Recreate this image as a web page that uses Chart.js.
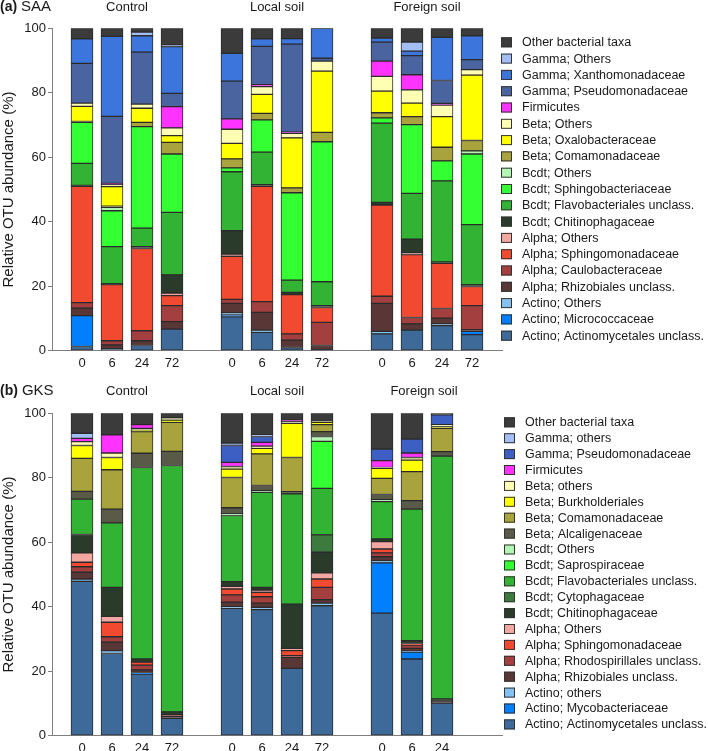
<!DOCTYPE html>
<html>
<head>
<meta charset="utf-8">
<script src="https://cdn.jsdelivr.net/npm/chart.js@4.4.1/dist/chart.umd.min.js"></script>
<style>
  html, body { margin: 0; padding: 0; background: #fff; }
  #wrap { position: relative; width: 709px; height: 751px; overflow: hidden; }
  canvas { position: absolute; left: 0; }
  #saa { top: 0; }
  #gks { top: 370px; }
</style>
</head>
<body>
<div id="wrap">
  <canvas id="saa" width="709" height="370"></canvas>
  <canvas id="gks" width="709" height="381"></canvas>
</div>
<script>
const hours = ["0", "6", "24", "72"];
const treatments = ["Control", "Local soil", "Foreign soil"];

// (a) SAA - order in each array: Control 0/6/24/72, Local 0/6/24/72, Foreign 0/6/24/72
const saaActinomycetales = [1.3, 0.6, 1.6, 6.7, 10.5, 5.7, 1.0, 0.3, 5.2, 6.4, 7.8, 5.0];
const saaMicrococcaceae  = [9.6, 0, 0, 0, 0.6, 0, 0, 0, 0, 0, 0, 1.0];
const saaActinoOthers    = [0, 0, 0, 0, 0.6, 0.7, 0, 0, 0.8, 0, 0.5, 0];
const saaRhizobiales     = [2.3, 1.2, 1.5, 2.3, 3.0, 5.5, 2.3, 1.3, 8.7, 1.9, 1.8, 0.5];
const saaCaulobacter     = [1.7, 1.3, 3.1, 5.0, 1.2, 3.3, 1.9, 7.2, 2.2, 2.0, 3.0, 7.5];
const saaSphingomonad    = [36.1, 17.4, 25.5, 3.1, 13.4, 35.8, 12.2, 4.6, 28.3, 19.5, 14.0, 5.9];
const saaAlphaOthers     = [0, 0, 0, 0.8, 0.7, 0, 0, 0, 0, 0.5, 0, 0];
const saaChitinophag     = [0.3, 0.3, 0.6, 5.6, 7.2, 0.5, 0.7, 0.6, 0.8, 4.3, 0.4, 0.6];
const saaFlavobact       = [6.8, 11.5, 5.7, 19.4, 18.3, 10.1, 3.8, 7.4, 24.6, 14.2, 25.2, 18.6];
const saaSphingobact     = [12.7, 11.1, 31.5, 18.1, 1.2, 10.0, 27.1, 43.4, 1.6, 21.3, 6.2, 21.9];
const saaBcdtOthers      = [0, 1.1, 0, 0, 0, 0, 0, 0, 0, 0, 0, 1.0];
const saaComamonad       = [0.3, 0.3, 1.3, 3.6, 2.8, 2.0, 1.5, 2.9, 1.6, 2.5, 4.2, 3.2];
const saaOxalobacter     = [4.7, 6.1, 4.4, 2.1, 4.8, 5.9, 15.5, 19.0, 6.7, 4.2, 9.5, 20.3];
const saaBetaOthers      = [1.0, 0.6, 1.3, 2.4, 4.4, 2.4, 1.4, 3.1, 4.6, 4.1, 3.6, 1.7];
const saaFirmicutes      = [0, 0.4, 0, 6.6, 3.2, 0.6, 0.4, 0, 4.7, 4.7, 0.5, 0];
const saaPseudomonad     = [12.3, 20.8, 16.1, 4.1, 11.7, 11.9, 27.3, 0.9, 5.9, 5.9, 7.1, 3.1];
const saaXanthomonad     = [7.6, 24.8, 5.1, 14.5, 8.6, 2.3, 1.7, 9.3, 1.3, 1.4, 13.4, 7.4];
const saaGammaOthers     = [0, 0, 1.1, 0.5, 0, 0, 0, 0, 0, 2.8, 0, 0];
const saaOther           = [3.3, 2.5, 1.2, 5.2, 7.8, 3.3, 3.2, 0, 3.0, 4.3, 2.8, 2.3];

// (b) GKS - same order, no Foreign soil 72 h sample
const gksActinomycetales = [47.9, 25.5, 19.1, 5.4, 39.5, 39.1, 20.9, 40.3, 38.0, 23.8, 10.1, null];
const gksMycobacter      = [0, 0, 0.5, 0, 0, 0, 0, 0, 15.6, 2.1, 0, null];
const gksActinoOthers    = [0.7, 0.9, 0, 0, 0.5, 0.7, 0, 0.8, 0.7, 0.3, 0, null];
const gksRhizobiales     = [2.1, 2.6, 0.8, 0.5, 1.4, 1.3, 3.4, 1.1, 1.2, 0.9, 0.6, null];
const gksRhodospir       = [1.7, 1.7, 1.5, 0.6, 2.3, 2.0, 0.5, 3.8, 1.2, 1.0, 0, null];
const gksSphingomonad    = [1.4, 4.5, 0.9, 0, 1.8, 1.4, 1.6, 2.6, 1.2, 0.5, 0, null];
const gksAlphaOthers     = [2.9, 1.8, 0, 0, 0.8, 0.7, 0.7, 1.9, 2.3, 0, 0, null];
const gksChitinophag     = [5.7, 9.0, 1.0, 0.9, 1.5, 0.8, 13.7, 6.4, 0.8, 0.9, 0.7, null];
const gksCytophag        = [0, 0, 0, 0, 0, 0, 0, 5.4, 0, 0, 0, null];
const gksFlavobact       = [11.0, 20.0, 59.4, 76.4, 20.5, 29.5, 34.2, 14.4, 11.6, 40.8, 75.3, null];
const gksSaprospir       = [0, 0, 0, 0, 0, 0, 0, 14.6, 0, 0, 0, null];
const gksBcdtOthers      = [0, 0, 0, 0, 0.5, 0.5, 0, 1.5, 0.6, 0, 0, null];
const gksAlcaligen       = [2.4, 4.3, 4.4, 4.4, 1.9, 1.6, 0.7, 1.5, 1.6, 2.6, 1.4, null];
const gksComamonad       = [10.2, 12.2, 6.7, 9.0, 9.4, 9.8, 10.6, 2.2, 5.0, 9.0, 7.2, null];
const gksBurkholder      = [4.0, 3.8, 0.5, 0.7, 2.6, 1.7, 10.6, 0.7, 3.1, 3.6, 0.6, null];
const gksBetaOthers      = [1.2, 1.4, 0.5, 0.7, 0.8, 0.7, 0.5, 0.3, 0.3, 0.8, 0.6, null];
const gksFirmicutes      = [1.0, 5.6, 1.2, 0, 1.3, 1.2, 0.5, 0, 2.1, 1.4, 0, null];
const gksPseudomonad     = [0, 0, 0, 0, 5.2, 1.8, 0, 0, 3.6, 4.3, 3.0, null];
const gksGammaOthers     = [1.6, 0, 0, 0, 0.8, 0.6, 0, 0, 0, 0, 0, null];
const gksOther           = [6.2, 6.7, 3.5, 1.4, 9.2, 6.6, 2.1, 2.5, 11.1, 8.0, 0.5, null];

// stacking order, bottom to top (legend shows it reversed)
const saaTaxa = [
  "Actino; Actinomycetales unclass.", "Actino; Micrococcaceae", "Actino; Others",
  "Alpha; Rhizobiales unclass.", "Alpha; Caulobacteraceae", "Alpha; Sphingomonadaceae", "Alpha; Others",
  "Bcdt; Chitinophagaceae", "Bcdt; Flavobacteriales unclass.", "Bcdt; Sphingobacteriaceae", "Bcdt; Others",
  "Beta; Comamonadaceae", "Beta; Oxalobacteraceae", "Beta; Others", "Firmicutes",
  "Gamma; Pseudomonadaceae", "Gamma; Xanthomonadaceae", "Gamma; Others", "Other bacterial taxa"
];
const saaSeries = [
  saaActinomycetales, saaMicrococcaceae, saaActinoOthers,
  saaRhizobiales, saaCaulobacter, saaSphingomonad, saaAlphaOthers,
  saaChitinophag, saaFlavobact, saaSphingobact, saaBcdtOthers,
  saaComamonad, saaOxalobacter, saaBetaOthers, saaFirmicutes,
  saaPseudomonad, saaXanthomonad, saaGammaOthers, saaOther
];
const saaColors = [
  "#3d6a99", "#0080ff", "#85c2f2",
  "#5a3737", "#a33f3f", "#f24a30", "#f2a8a0",
  "#2b3b2b", "#33b333", "#33ff33", "#b3f5b3",
  "#a8a33c", "#ffff00", "#ffffb3", "#ff33ff",
  "#4a64a0", "#3c75dc", "#a3bdf5", "#3b3b3b"
];

const gksTaxa = [
  "Actino; Actinomycetales unclass.", "Actino; Mycobacteriaceae", "Actino; others",
  "Alpha; Rhizobiales unclass.", "Alpha; Rhodospirillales unclass.", "Alpha; Sphingomonadaceae", "Alpha; Others",
  "Bcdt; Chitinophagaceae", "Bcdt; Cytophagaceae", "Bcdt; Flavobacteriales unclass.", "Bcdt; Saprospiraceae", "Bcdt; Others",
  "Beta; Alcaligenaceae", "Beta; Comamonadaceae", "Beta; Burkholderiales", "Beta; others",
  "Firmicutes", "Gamma; Pseudomonadaceae", "Gamma; others", "Other bacterial taxa"
];
const gksSeries = [
  gksActinomycetales, gksMycobacter, gksActinoOthers,
  gksRhizobiales, gksRhodospir, gksSphingomonad, gksAlphaOthers,
  gksChitinophag, gksCytophag, gksFlavobact, gksSaprospir, gksBcdtOthers,
  gksAlcaligen, gksComamonad, gksBurkholder, gksBetaOthers,
  gksFirmicutes, gksPseudomonad, gksGammaOthers, gksOther
];
const gksColors = [
  "#3d6a99", "#0080ff", "#85c2f2",
  "#5a3737", "#a33f3f", "#f24a30", "#f2a8a0",
  "#2b3b2b", "#3d7a3d", "#33b333", "#33ff33", "#b3f5b3",
  "#5a5a48", "#a8a33c", "#ffff00", "#ffffb3",
  "#ff33ff", "#3d5fc4", "#a3bdf5", "#3b3b3b"
];

// one empty slot before, between and after the three treatment groups
const slots = ["", ...hours, "", ...hours, "", ...hours, ""];
function toSlots(vals) {
  const out = new Array(slots.length).fill(null);
  vals.forEach((v, i) => {
    out[1 + Math.floor(i / 4) * 5 + (i % 4)] = v ? v : null;
  });
  return out;
}

const FONT = "'Liberation Sans', Arial, Helvetica, sans-serif";
Chart.defaults.font.family = FONT;
Chart.defaults.color = "#1a1a1a";

// panel letter, treatment names and the legend column
const panelDecor = {
  id: "panelDecor",
  afterDraw(chart, args, opts) {
    const ctx = chart.ctx;
    const xs = chart.scales.x;
    ctx.save();
    ctx.fillStyle = "#1a1a1a";
    ctx.textBaseline = "middle";
    ctx.textAlign = "left";
    ctx.font = "bold 14px " + FONT;
    ctx.fillText(opts.letter, 0, opts.titleY);
    const w = ctx.measureText(opts.letter).width + 4;
    ctx.font = "15px " + FONT;
    ctx.fillText(opts.site, w, opts.titleY);

    ctx.font = "13px " + FONT;
    ctx.textAlign = "center";
    treatments.forEach((t, g) => {
      ctx.fillText(t, xs.getPixelForValue(g * 5 + 2.5) + (opts.shift[g] || 0), opts.titleY);
    });

    ctx.font = "12.5px " + FONT;
    ctx.textAlign = "left";
    const items = chart.data.datasets.slice().reverse();
    items.forEach((ds, i) => {
      const y = opts.legendTop + i * opts.legendStep;
      ctx.fillStyle = ds.backgroundColor;
      ctx.fillRect(opts.boxX, y - 5, 11, 10);
      ctx.strokeStyle = "#333";
      ctx.lineWidth = 1;
      ctx.strokeRect(opts.boxX + 0.5, y - 4.5, 10, 9);
      ctx.fillStyle = "#1a1a1a";
      ctx.fillText(ds.label, opts.textX, y + 0.5);
    });
    ctx.restore();
  }
};

function makePanel(id, taxa, series, colors, decor, padTop, axisH) {
  const slotted = series.map(toSlots);
  // no tick label under a slot that holds no sample
  const labels = slots.map((l, i) => slotted.some(s => s[i] != null) ? l : "");
  new Chart(document.getElementById(id), {
    type: "bar",
    data: {
      labels: labels,
      datasets: taxa.map((name, k) => ({
        label: name,
        data: slotted[k],
        backgroundColor: colors[k],
        borderColor: "#2b2b2b",
        borderWidth: 1,
        borderSkipped: false,
        barThickness: 22
      }))
    },
    options: {
      responsive: false,
      animation: false,
      layout: { padding: { top: padTop, right: 207, bottom: 0, left: 0 } },
      plugins: {
        legend: { display: false },
        tooltip: { enabled: false },
        panelDecor: decor
      },
      scales: {
        x: {
          stacked: true,
          offset: false,
          grid: { display: true, drawOnChartArea: false, drawTicks: false, offset: false },
          border: { color: "#808080", width: 1 },
          ticks: { autoSkip: false, maxRotation: 0, padding: 5, font: { size: 13 }, color: "#1a1a1a" },
          afterFit: (s) => { s.height = axisH; }
        },
        y: {
          stacked: true,
          min: 0,
          max: 100,
          grid: { drawOnChartArea: false, tickLength: 4, color: "#808080" },
          border: { color: "#808080", width: 1 },
          ticks: { stepSize: 20, padding: 2, font: { size: 13 }, color: "#1a1a1a" },
          title: { display: true, text: "Relative OTU abundance (%)", font: { size: 15 }, padding: 0, color: "#1a1a1a" },
          afterFit: (s) => { s.width = 52; }
        }
      }
    },
    plugins: [panelDecor]
  });
}

makePanel("saa", saaTaxa, saaSeries, saaColors,
  { letter: "(a)", site: "SAA", titleY: 7, shift: [0, 0, 0], legendTop: 42.3, legendStep: 16.3, boxX: 501, textX: 522 },
  28.3, 19.3);
makePanel("gks", gksTaxa, gksSeries, gksColors,
  { letter: "(b)", site: "GKS", titleY: 21, shift: [0, 0, -3], legendTop: 52.3, legendStep: 15.9, boxX: 504, textX: 525 },
  43.3, 15.3);
</script>
</body>
</html>
